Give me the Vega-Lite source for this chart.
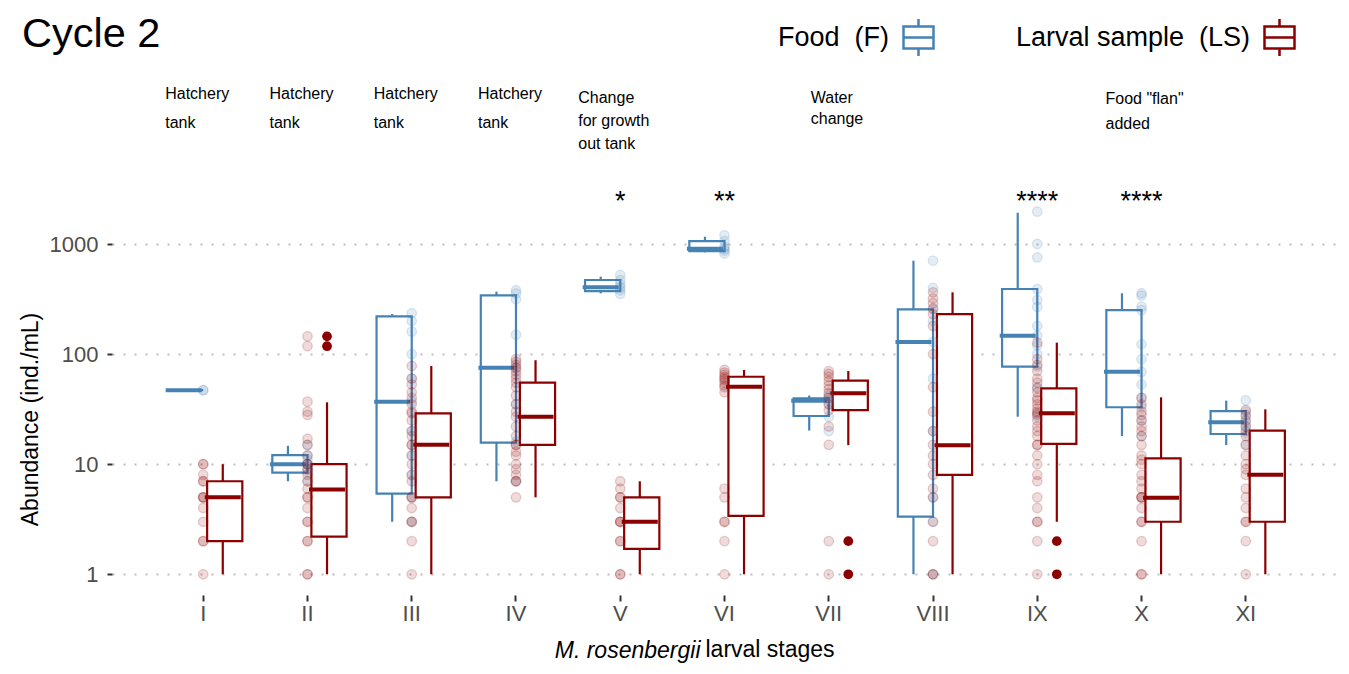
{
  "$schema": "https://vega.github.io/schema/vega-lite/v6.json",
  "width": 1225,
  "height": 520,
  "autosize": {"type": "none"},
  "padding": {"left": 112, "top": 75, "right": 12, "bottom": 79},
  "background": "white",
  "config": {
    "font": "Liberation Sans",
    "view": {"stroke": null},
    "axis": {"labelFont": "Liberation Sans", "titleFont": "Liberation Sans"}
  },
  "title": {
    "text": "Cycle 2",
    "orient": "none",
    "anchor": "start",
    "align": "left",
    "fontSize": 41.5,
    "fontWeight": "normal",
    "color": "black",
    "font": "Liberation Sans",
    "dx": -90,
    "dy": -28,
    "baseline": "alphabetic"
  },
  "datasets": {
    "boxes": [
      {"stage": "I", "group": "F", "lower": 47, "q1": 47, "median": 47, "q3": 47, "upper": 47},
      {"stage": "I", "group": "LS", "lower": 1, "q1": 2, "median": 5, "q3": 7, "upper": 10},
      {"stage": "II", "group": "F", "lower": 7, "q1": 8.4, "median": 10, "q3": 12.1, "upper": 14.7},
      {"stage": "II", "group": "LS", "lower": 1, "q1": 2.2, "median": 5.9, "q3": 10, "upper": 36.5},
      {"stage": "III", "group": "F", "lower": 3, "q1": 5.4, "median": 37, "q3": 220, "upper": 231},
      {"stage": "III", "group": "LS", "lower": 1, "q1": 5, "median": 15, "q3": 29, "upper": 78},
      {"stage": "IV", "group": "F", "lower": 7, "q1": 15.7, "median": 75, "q3": 342, "upper": 369},
      {"stage": "IV", "group": "LS", "lower": 5, "q1": 15, "median": 27, "q3": 55, "upper": 88},
      {"stage": "V", "group": "F", "lower": 356, "q1": 374, "median": 404, "q3": 471, "upper": 505},
      {"stage": "V", "group": "LS", "lower": 1, "q1": 1.7, "median": 3, "q3": 5, "upper": 7},
      {"stage": "VI", "group": "F", "lower": 840, "q1": 863, "median": 906, "q3": 1064, "upper": 1164},
      {"stage": "VI", "group": "LS", "lower": 1, "q1": 3.4, "median": 50.6, "q3": 62.3, "upper": 71.8},
      {"stage": "VII", "group": "F", "lower": 20.2, "q1": 27.4, "median": 37.7, "q3": 39.7, "upper": 42},
      {"stage": "VII", "group": "LS", "lower": 14.9, "q1": 31, "median": 44, "q3": 57.4, "upper": 70.2},
      {"stage": "VIII", "group": "F", "lower": 1, "q1": 3.34, "median": 129, "q3": 255, "upper": 705},
      {"stage": "VIII", "group": "LS", "lower": 1, "q1": 8, "median": 14.9, "q3": 231, "upper": 364},
      {"stage": "IX", "group": "F", "lower": 27, "q1": 76.9, "median": 147, "q3": 390, "upper": 1923},
      {"stage": "IX", "group": "LS", "lower": 3, "q1": 15.3, "median": 29, "q3": 48.9, "upper": 127},
      {"stage": "X", "group": "F", "lower": 18, "q1": 32.9, "median": 69.2, "q3": 251, "upper": 357},
      {"stage": "X", "group": "LS", "lower": 1, "q1": 3, "median": 4.97, "q3": 11.3, "upper": 40.5},
      {"stage": "XI", "group": "F", "lower": 14.9, "q1": 18.8, "median": 24, "q3": 30.4, "upper": 37.8},
      {"stage": "XI", "group": "LS", "lower": 1, "q1": 3, "median": 8, "q3": 20.2, "upper": 31.5}
    ],
    "outliers": [
      {"stage": "II", "group": "LS", "value": 118},
      {"stage": "II", "group": "LS", "value": 145},
      {"stage": "VII", "group": "LS", "value": 1},
      {"stage": "VII", "group": "LS", "value": 2},
      {"stage": "IX", "group": "LS", "value": 1},
      {"stage": "IX", "group": "LS", "value": 2}
    ],
    "points": [
      {"stage": "I", "group": "F", "value": 47}, {"stage": "I", "group": "F", "value": 47},
      {"stage": "I", "group": "LS", "value": 1}, {"stage": "I", "group": "LS", "value": 2}, {"stage": "I", "group": "LS", "value": 2},
      {"stage": "I", "group": "LS", "value": 3}, {"stage": "I", "group": "LS", "value": 4}, {"stage": "I", "group": "LS", "value": 5},
      {"stage": "I", "group": "LS", "value": 5}, {"stage": "I", "group": "LS", "value": 5}, {"stage": "I", "group": "LS", "value": 7},
      {"stage": "I", "group": "LS", "value": 7}, {"stage": "I", "group": "LS", "value": 8}, {"stage": "I", "group": "LS", "value": 10},
      {"stage": "I", "group": "LS", "value": 10},
      {"stage": "II", "group": "F", "value": 7}, {"stage": "II", "group": "F", "value": 8.5}, {"stage": "II", "group": "F", "value": 9},
      {"stage": "II", "group": "F", "value": 10}, {"stage": "II", "group": "F", "value": 10}, {"stage": "II", "group": "F", "value": 11},
      {"stage": "II", "group": "F", "value": 12}, {"stage": "II", "group": "F", "value": 15},
      {"stage": "II", "group": "LS", "value": 1}, {"stage": "II", "group": "LS", "value": 1}, {"stage": "II", "group": "LS", "value": 2},
      {"stage": "II", "group": "LS", "value": 2}, {"stage": "II", "group": "LS", "value": 3}, {"stage": "II", "group": "LS", "value": 3},
      {"stage": "II", "group": "LS", "value": 4}, {"stage": "II", "group": "LS", "value": 5}, {"stage": "II", "group": "LS", "value": 5},
      {"stage": "II", "group": "LS", "value": 6}, {"stage": "II", "group": "LS", "value": 7}, {"stage": "II", "group": "LS", "value": 8},
      {"stage": "II", "group": "LS", "value": 9}, {"stage": "II", "group": "LS", "value": 10}, {"stage": "II", "group": "LS", "value": 10},
      {"stage": "II", "group": "LS", "value": 12}, {"stage": "II", "group": "LS", "value": 15}, {"stage": "II", "group": "LS", "value": 17},
      {"stage": "II", "group": "LS", "value": 28}, {"stage": "II", "group": "LS", "value": 30}, {"stage": "II", "group": "LS", "value": 37},
      {"stage": "II", "group": "LS", "value": 118}, {"stage": "II", "group": "LS", "value": 145},
      {"stage": "III", "group": "F", "value": 3}, {"stage": "III", "group": "F", "value": 5}, {"stage": "III", "group": "F", "value": 8},
      {"stage": "III", "group": "F", "value": 12}, {"stage": "III", "group": "F", "value": 20}, {"stage": "III", "group": "F", "value": 37},
      {"stage": "III", "group": "F", "value": 60}, {"stage": "III", "group": "F", "value": 100}, {"stage": "III", "group": "F", "value": 160},
      {"stage": "III", "group": "F", "value": 200}, {"stage": "III", "group": "F", "value": 235},
      {"stage": "III", "group": "LS", "value": 1}, {"stage": "III", "group": "LS", "value": 2}, {"stage": "III", "group": "LS", "value": 3},
      {"stage": "III", "group": "LS", "value": 3}, {"stage": "III", "group": "LS", "value": 4}, {"stage": "III", "group": "LS", "value": 5},
      {"stage": "III", "group": "LS", "value": 5}, {"stage": "III", "group": "LS", "value": 7}, {"stage": "III", "group": "LS", "value": 8},
      {"stage": "III", "group": "LS", "value": 10}, {"stage": "III", "group": "LS", "value": 12}, {"stage": "III", "group": "LS", "value": 15},
      {"stage": "III", "group": "LS", "value": 15}, {"stage": "III", "group": "LS", "value": 18}, {"stage": "III", "group": "LS", "value": 20},
      {"stage": "III", "group": "LS", "value": 25}, {"stage": "III", "group": "LS", "value": 29}, {"stage": "III", "group": "LS", "value": 30},
      {"stage": "III", "group": "LS", "value": 35}, {"stage": "III", "group": "LS", "value": 40}, {"stage": "III", "group": "LS", "value": 45},
      {"stage": "III", "group": "LS", "value": 53}, {"stage": "III", "group": "LS", "value": 60}, {"stage": "III", "group": "LS", "value": 78},
      {"stage": "IV", "group": "F", "value": 7}, {"stage": "IV", "group": "F", "value": 16}, {"stage": "IV", "group": "F", "value": 35},
      {"stage": "IV", "group": "F", "value": 75}, {"stage": "IV", "group": "F", "value": 150}, {"stage": "IV", "group": "F", "value": 315},
      {"stage": "IV", "group": "F", "value": 356}, {"stage": "IV", "group": "F", "value": 380},
      {"stage": "IV", "group": "LS", "value": 5}, {"stage": "IV", "group": "LS", "value": 7}, {"stage": "IV", "group": "LS", "value": 7},
      {"stage": "IV", "group": "LS", "value": 8}, {"stage": "IV", "group": "LS", "value": 9}, {"stage": "IV", "group": "LS", "value": 10},
      {"stage": "IV", "group": "LS", "value": 12}, {"stage": "IV", "group": "LS", "value": 13}, {"stage": "IV", "group": "LS", "value": 15},
      {"stage": "IV", "group": "LS", "value": 15}, {"stage": "IV", "group": "LS", "value": 18}, {"stage": "IV", "group": "LS", "value": 22},
      {"stage": "IV", "group": "LS", "value": 27}, {"stage": "IV", "group": "LS", "value": 30}, {"stage": "IV", "group": "LS", "value": 35},
      {"stage": "IV", "group": "LS", "value": 42}, {"stage": "IV", "group": "LS", "value": 50}, {"stage": "IV", "group": "LS", "value": 55},
      {"stage": "IV", "group": "LS", "value": 60}, {"stage": "IV", "group": "LS", "value": 65}, {"stage": "IV", "group": "LS", "value": 70},
      {"stage": "IV", "group": "LS", "value": 75}, {"stage": "IV", "group": "LS", "value": 80}, {"stage": "IV", "group": "LS", "value": 85},
      {"stage": "IV", "group": "LS", "value": 90},
      {"stage": "V", "group": "F", "value": 352}, {"stage": "V", "group": "F", "value": 380}, {"stage": "V", "group": "F", "value": 404},
      {"stage": "V", "group": "F", "value": 430}, {"stage": "V", "group": "F", "value": 470}, {"stage": "V", "group": "F", "value": 523},
      {"stage": "V", "group": "LS", "value": 1}, {"stage": "V", "group": "LS", "value": 1}, {"stage": "V", "group": "LS", "value": 2},
      {"stage": "V", "group": "LS", "value": 2}, {"stage": "V", "group": "LS", "value": 3}, {"stage": "V", "group": "LS", "value": 3},
      {"stage": "V", "group": "LS", "value": 3}, {"stage": "V", "group": "LS", "value": 4}, {"stage": "V", "group": "LS", "value": 5},
      {"stage": "V", "group": "LS", "value": 5}, {"stage": "V", "group": "LS", "value": 6}, {"stage": "V", "group": "LS", "value": 7},
      {"stage": "VI", "group": "F", "value": 820}, {"stage": "VI", "group": "F", "value": 870}, {"stage": "VI", "group": "F", "value": 906},
      {"stage": "VI", "group": "F", "value": 943}, {"stage": "VI", "group": "F", "value": 1064}, {"stage": "VI", "group": "F", "value": 1200},
      {"stage": "VI", "group": "LS", "value": 1}, {"stage": "VI", "group": "LS", "value": 2}, {"stage": "VI", "group": "LS", "value": 3},
      {"stage": "VI", "group": "LS", "value": 3}, {"stage": "VI", "group": "LS", "value": 5}, {"stage": "VI", "group": "LS", "value": 6},
      {"stage": "VI", "group": "LS", "value": 45}, {"stage": "VI", "group": "LS", "value": 50}, {"stage": "VI", "group": "LS", "value": 52},
      {"stage": "VI", "group": "LS", "value": 55}, {"stage": "VI", "group": "LS", "value": 58}, {"stage": "VI", "group": "LS", "value": 60},
      {"stage": "VI", "group": "LS", "value": 62}, {"stage": "VI", "group": "LS", "value": 65}, {"stage": "VI", "group": "LS", "value": 68},
      {"stage": "VI", "group": "LS", "value": 72},
      {"stage": "VII", "group": "F", "value": 20}, {"stage": "VII", "group": "F", "value": 27}, {"stage": "VII", "group": "F", "value": 35},
      {"stage": "VII", "group": "F", "value": 38}, {"stage": "VII", "group": "F", "value": 40}, {"stage": "VII", "group": "F", "value": 42},
      {"stage": "VII", "group": "LS", "value": 1}, {"stage": "VII", "group": "LS", "value": 2}, {"stage": "VII", "group": "LS", "value": 15},
      {"stage": "VII", "group": "LS", "value": 22}, {"stage": "VII", "group": "LS", "value": 31}, {"stage": "VII", "group": "LS", "value": 35},
      {"stage": "VII", "group": "LS", "value": 40}, {"stage": "VII", "group": "LS", "value": 44}, {"stage": "VII", "group": "LS", "value": 48},
      {"stage": "VII", "group": "LS", "value": 52}, {"stage": "VII", "group": "LS", "value": 57}, {"stage": "VII", "group": "LS", "value": 62},
      {"stage": "VII", "group": "LS", "value": 66}, {"stage": "VII", "group": "LS", "value": 70},
      {"stage": "VIII", "group": "F", "value": 1}, {"stage": "VIII", "group": "F", "value": 3}, {"stage": "VIII", "group": "F", "value": 5},
      {"stage": "VIII", "group": "F", "value": 20}, {"stage": "VIII", "group": "F", "value": 60}, {"stage": "VIII", "group": "F", "value": 129},
      {"stage": "VIII", "group": "F", "value": 200}, {"stage": "VIII", "group": "F", "value": 255}, {"stage": "VIII", "group": "F", "value": 400},
      {"stage": "VIII", "group": "F", "value": 705},
      {"stage": "VIII", "group": "LS", "value": 1}, {"stage": "VIII", "group": "LS", "value": 1}, {"stage": "VIII", "group": "LS", "value": 2},
      {"stage": "VIII", "group": "LS", "value": 3}, {"stage": "VIII", "group": "LS", "value": 5}, {"stage": "VIII", "group": "LS", "value": 6},
      {"stage": "VIII", "group": "LS", "value": 8}, {"stage": "VIII", "group": "LS", "value": 10}, {"stage": "VIII", "group": "LS", "value": 12},
      {"stage": "VIII", "group": "LS", "value": 15}, {"stage": "VIII", "group": "LS", "value": 20}, {"stage": "VIII", "group": "LS", "value": 30},
      {"stage": "VIII", "group": "LS", "value": 50}, {"stage": "VIII", "group": "LS", "value": 100}, {"stage": "VIII", "group": "LS", "value": 180},
      {"stage": "VIII", "group": "LS", "value": 230}, {"stage": "VIII", "group": "LS", "value": 260}, {"stage": "VIII", "group": "LS", "value": 290},
      {"stage": "VIII", "group": "LS", "value": 320}, {"stage": "VIII", "group": "LS", "value": 364},
      {"stage": "IX", "group": "F", "value": 27}, {"stage": "IX", "group": "F", "value": 50}, {"stage": "IX", "group": "F", "value": 77},
      {"stage": "IX", "group": "F", "value": 100}, {"stage": "IX", "group": "F", "value": 120}, {"stage": "IX", "group": "F", "value": 147},
      {"stage": "IX", "group": "F", "value": 180}, {"stage": "IX", "group": "F", "value": 268}, {"stage": "IX", "group": "F", "value": 310},
      {"stage": "IX", "group": "F", "value": 390}, {"stage": "IX", "group": "F", "value": 757}, {"stage": "IX", "group": "F", "value": 1000},
      {"stage": "IX", "group": "F", "value": 1970},
      {"stage": "IX", "group": "LS", "value": 1}, {"stage": "IX", "group": "LS", "value": 2}, {"stage": "IX", "group": "LS", "value": 3},
      {"stage": "IX", "group": "LS", "value": 3}, {"stage": "IX", "group": "LS", "value": 4}, {"stage": "IX", "group": "LS", "value": 5},
      {"stage": "IX", "group": "LS", "value": 7}, {"stage": "IX", "group": "LS", "value": 8}, {"stage": "IX", "group": "LS", "value": 10},
      {"stage": "IX", "group": "LS", "value": 12}, {"stage": "IX", "group": "LS", "value": 15}, {"stage": "IX", "group": "LS", "value": 15},
      {"stage": "IX", "group": "LS", "value": 18}, {"stage": "IX", "group": "LS", "value": 20}, {"stage": "IX", "group": "LS", "value": 22},
      {"stage": "IX", "group": "LS", "value": 25}, {"stage": "IX", "group": "LS", "value": 28}, {"stage": "IX", "group": "LS", "value": 29},
      {"stage": "IX", "group": "LS", "value": 30}, {"stage": "IX", "group": "LS", "value": 32}, {"stage": "IX", "group": "LS", "value": 35},
      {"stage": "IX", "group": "LS", "value": 38}, {"stage": "IX", "group": "LS", "value": 40}, {"stage": "IX", "group": "LS", "value": 45},
      {"stage": "IX", "group": "LS", "value": 49}, {"stage": "IX", "group": "LS", "value": 55}, {"stage": "IX", "group": "LS", "value": 60},
      {"stage": "IX", "group": "LS", "value": 70}, {"stage": "IX", "group": "LS", "value": 80}, {"stage": "IX", "group": "LS", "value": 90},
      {"stage": "IX", "group": "LS", "value": 127},
      {"stage": "X", "group": "F", "value": 18}, {"stage": "X", "group": "F", "value": 25}, {"stage": "X", "group": "F", "value": 33},
      {"stage": "X", "group": "F", "value": 40}, {"stage": "X", "group": "F", "value": 53}, {"stage": "X", "group": "F", "value": 69},
      {"stage": "X", "group": "F", "value": 90}, {"stage": "X", "group": "F", "value": 123}, {"stage": "X", "group": "F", "value": 251},
      {"stage": "X", "group": "F", "value": 270}, {"stage": "X", "group": "F", "value": 340}, {"stage": "X", "group": "F", "value": 357},
      {"stage": "X", "group": "LS", "value": 1}, {"stage": "X", "group": "LS", "value": 1}, {"stage": "X", "group": "LS", "value": 2},
      {"stage": "X", "group": "LS", "value": 3}, {"stage": "X", "group": "LS", "value": 3}, {"stage": "X", "group": "LS", "value": 4},
      {"stage": "X", "group": "LS", "value": 5}, {"stage": "X", "group": "LS", "value": 5}, {"stage": "X", "group": "LS", "value": 5},
      {"stage": "X", "group": "LS", "value": 6}, {"stage": "X", "group": "LS", "value": 7}, {"stage": "X", "group": "LS", "value": 8},
      {"stage": "X", "group": "LS", "value": 10}, {"stage": "X", "group": "LS", "value": 11}, {"stage": "X", "group": "LS", "value": 12},
      {"stage": "X", "group": "LS", "value": 15}, {"stage": "X", "group": "LS", "value": 18}, {"stage": "X", "group": "LS", "value": 20},
      {"stage": "X", "group": "LS", "value": 22}, {"stage": "X", "group": "LS", "value": 25}, {"stage": "X", "group": "LS", "value": 28},
      {"stage": "X", "group": "LS", "value": 30}, {"stage": "X", "group": "LS", "value": 35}, {"stage": "X", "group": "LS", "value": 40},
      {"stage": "XI", "group": "F", "value": 15}, {"stage": "XI", "group": "F", "value": 19}, {"stage": "XI", "group": "F", "value": 22},
      {"stage": "XI", "group": "F", "value": 24}, {"stage": "XI", "group": "F", "value": 27}, {"stage": "XI", "group": "F", "value": 30},
      {"stage": "XI", "group": "F", "value": 38},
      {"stage": "XI", "group": "LS", "value": 1}, {"stage": "XI", "group": "LS", "value": 2}, {"stage": "XI", "group": "LS", "value": 3},
      {"stage": "XI", "group": "LS", "value": 3}, {"stage": "XI", "group": "LS", "value": 4}, {"stage": "XI", "group": "LS", "value": 5},
      {"stage": "XI", "group": "LS", "value": 6}, {"stage": "XI", "group": "LS", "value": 8}, {"stage": "XI", "group": "LS", "value": 9},
      {"stage": "XI", "group": "LS", "value": 10}, {"stage": "XI", "group": "LS", "value": 12}, {"stage": "XI", "group": "LS", "value": 15},
      {"stage": "XI", "group": "LS", "value": 18}, {"stage": "XI", "group": "LS", "value": 20}, {"stage": "XI", "group": "LS", "value": 22},
      {"stage": "XI", "group": "LS", "value": 25}, {"stage": "XI", "group": "LS", "value": 28}, {"stage": "XI", "group": "LS", "value": 31}
    ],
    "stars": [
      {"stage": "V", "stars": "*"},
      {"stage": "VI", "stars": "**"},
      {"stage": "IX", "stars": "****"},
      {"stage": "X", "stars": "****"}
    ],
    "notes": [
      {"stage": "I", "kind": "hatchery", "note": "Hatchery\ntank"},
      {"stage": "II", "kind": "hatchery", "note": "Hatchery\ntank"},
      {"stage": "III", "kind": "hatchery", "note": "Hatchery\ntank"},
      {"stage": "IV", "kind": "hatchery", "note": "Hatchery\ntank"},
      {"stage": "V", "kind": "growth", "note": "Change\nfor growth\nout tank"},
      {"stage": "VII", "kind": "water", "note": "Water\nchange"},
      {"stage": "X", "kind": "flan", "note": "Food \"flan\"\nadded"}
    ],
    "axisnote": [
      {"stage": "VI", "text": "larval stages"}
    ]
  },
  "layer": [
    {
      "data": {"name": "boxes"},
      "mark": {"type": "rule", "strokeWidth": 2.2},
      "encoding": {
        "x": {
          "field": "stage", "type": "nominal",
          "scale": {"type": "band", "domain": ["I", "II", "III", "IV", "V", "VI", "VII", "VIII", "IX", "X", "XI"], "paddingInner": 0.25, "paddingOuter": 0.5},
          "axis": {
            "labelFontSize": 22, "labelColor": "#4D4D4D", "labelAngle": 0, "labelPadding": 2,
            "tickSize": 6, "tickWidth": 2, "tickColor": "#333333", "domain": false, "grid": false,
            "title": "M. rosenbergii", "titleFontStyle": "italic", "titleFontSize": 23, "titleFontWeight": "normal",
            "titleColor": "black", "titleAlign": "right", "titleBaseline": "middle", "titleX": 588, "titleY": 55
          }
        },
        "xOffset": {"field": "group", "type": "nominal", "scale": {"domain": ["F", "LS"], "paddingInner": 0, "paddingOuter": 0}},
        "y": {
          "field": "lower", "type": "quantitative",
          "scale": {"type": "log", "domain": [0.6486, 34276], "nice": false},
          "axis": {
            "values": [1, 10, 100, 1000], "format": "d",
            "grid": true, "gridDash": [2, 9], "gridColor": "#BDBDBD", "gridWidth": 2,
            "domain": false, "tickSize": 5, "tickWidth": 2, "tickColor": "#333333",
            "labelFontSize": 22, "labelColor": "#4D4D4D", "labelPadding": 9,
            "title": "Abundance (ind./mL)", "titleFontSize": 23, "titleFontWeight": "normal", "titleColor": "black",
            "titleAngle": -90, "titleAlign": "center", "titleBaseline": "middle", "titleX": -82, "titleY": 344
          }
        },
        "y2": {"field": "q1"},
        "color": {"field": "group", "type": "nominal", "scale": {"domain": ["F", "LS"], "range": ["#4682B4", "#8B0000"]}, "legend": null}
      }
    },
    {
      "data": {"name": "boxes"},
      "mark": {"type": "rule", "strokeWidth": 2.2},
      "encoding": {
        "x": {"field": "stage", "type": "nominal"},
        "xOffset": {"field": "group", "type": "nominal"},
        "y": {"field": "q3", "type": "quantitative"},
        "y2": {"field": "upper"},
        "color": {"field": "group", "type": "nominal", "legend": null}
      }
    },
    {
      "data": {"name": "boxes"},
      "mark": {"type": "bar", "fill": "white", "strokeWidth": 2.2, "opacity": 1, "width": {"band": 0.9}},
      "encoding": {
        "x": {"field": "stage", "type": "nominal"},
        "xOffset": {"field": "group", "type": "nominal"},
        "y": {"field": "q1", "type": "quantitative"},
        "y2": {"field": "q3"},
        "stroke": {
          "field": "group", "type": "nominal",
          "scale": {"range": ["#4682B4", "#8B0000"]},
          "legend": {
            "orient": "none", "legendX": 790, "legendY": -54, "direction": "horizontal", "title": null,
            "symbolType": "M-1,-0.73H1V0.73H-1Z M0,-0.73V-1.23 M0,0.73V1.23 M-1,0H1",
            "symbolSize": 900, "symbolStrokeWidth": 2.5, "symbolFillColor": "white", "symbolOpacity": 1,
            "labelFontSize": 27, "labelFont": "Liberation Sans", "labelColor": "black",
            "labelAlign": "right", "labelOffset": -46, "labelLimit": 500, "columnPadding": 76, "padding": 0,
            "labelExpr": "datum.label == 'F' ? 'Food\u00a0 (F)' : 'Larval sample\u00a0 (LS)'"
          }
        }
      }
    },
    {
      "data": {"name": "boxes"},
      "mark": {"type": "tick", "thickness": 4, "size": 36, "opacity": 1},
      "encoding": {
        "x": {"field": "stage", "type": "nominal"},
        "xOffset": {"field": "group", "type": "nominal"},
        "y": {"field": "median", "type": "quantitative"},
        "color": {"field": "group", "type": "nominal", "legend": null}
      }
    },
    {
      "data": {"name": "points"},
      "mark": {"type": "circle", "size": 90, "opacity": 0.14},
      "encoding": {
        "x": {"field": "stage", "type": "nominal"},
        "y": {"field": "value", "type": "quantitative"},
        "color": {"field": "group", "type": "nominal", "legend": null}
      }
    },
    {
      "data": {"name": "points"},
      "mark": {"type": "point", "shape": "circle", "filled": false, "size": 90, "strokeWidth": 1.3, "opacity": 0.18},
      "encoding": {
        "x": {"field": "stage", "type": "nominal"},
        "y": {"field": "value", "type": "quantitative"},
        "color": {"field": "group", "type": "nominal", "legend": null}
      }
    },
    {
      "data": {"name": "outliers"},
      "mark": {"type": "circle", "size": 95, "opacity": 1, "color": "#8B0000"},
      "encoding": {
        "x": {"field": "stage", "type": "nominal"},
        "xOffset": {"field": "group", "type": "nominal"},
        "y": {"field": "value", "type": "quantitative"}
      }
    },
    {
      "data": {"name": "stars"},
      "mark": {"type": "text", "fontSize": 27, "color": "black", "align": "center", "baseline": "alphabetic"},
      "encoding": {
        "x": {"field": "stage", "type": "nominal"},
        "y": {"datum": 2050},
        "text": {"field": "stars"}
      }
    },
    {
      "data": {"name": "notes"},
      "transform": [{"filter": "datum.kind == 'hatchery'"}],
      "mark": {"type": "text", "fontSize": 16, "color": "black", "align": "left", "baseline": "alphabetic", "lineBreak": "\n", "lineHeight": 29.5, "dx": -38},
      "encoding": {
        "x": {"field": "stage", "type": "nominal"},
        "y": {"datum": 20900},
        "text": {"field": "note"}
      }
    },
    {
      "data": {"name": "notes"},
      "transform": [{"filter": "datum.kind == 'growth'"}],
      "mark": {"type": "text", "fontSize": 16, "color": "black", "align": "left", "baseline": "alphabetic", "lineBreak": "\n", "lineHeight": 23, "dx": -42},
      "encoding": {
        "x": {"field": "stage", "type": "nominal"},
        "y": {"datum": 19000},
        "text": {"field": "note"}
      }
    },
    {
      "data": {"name": "notes"},
      "transform": [{"filter": "datum.kind == 'water'"}],
      "mark": {"type": "text", "fontSize": 16, "color": "black", "align": "left", "baseline": "alphabetic", "lineBreak": "\n", "lineHeight": 21, "dx": -18},
      "encoding": {
        "x": {"field": "stage", "type": "nominal"},
        "y": {"datum": 19000},
        "text": {"field": "note"}
      }
    },
    {
      "data": {"name": "notes"},
      "transform": [{"filter": "datum.kind == 'flan'"}],
      "mark": {"type": "text", "fontSize": 16, "color": "black", "align": "left", "baseline": "alphabetic", "lineBreak": "\n", "lineHeight": 25, "dx": -36},
      "encoding": {
        "x": {"field": "stage", "type": "nominal"},
        "y": {"datum": 18500},
        "text": {"field": "note"}
      }
    },
    {
      "data": {"name": "axisnote"},
      "mark": {"type": "text", "fontSize": 23, "color": "black", "align": "left", "baseline": "middle", "dx": -19},
      "encoding": {
        "x": {"field": "stage", "type": "nominal"},
        "y": {"datum": 0.2053},
        "text": {"field": "text"}
      }
    }
  ]
}
